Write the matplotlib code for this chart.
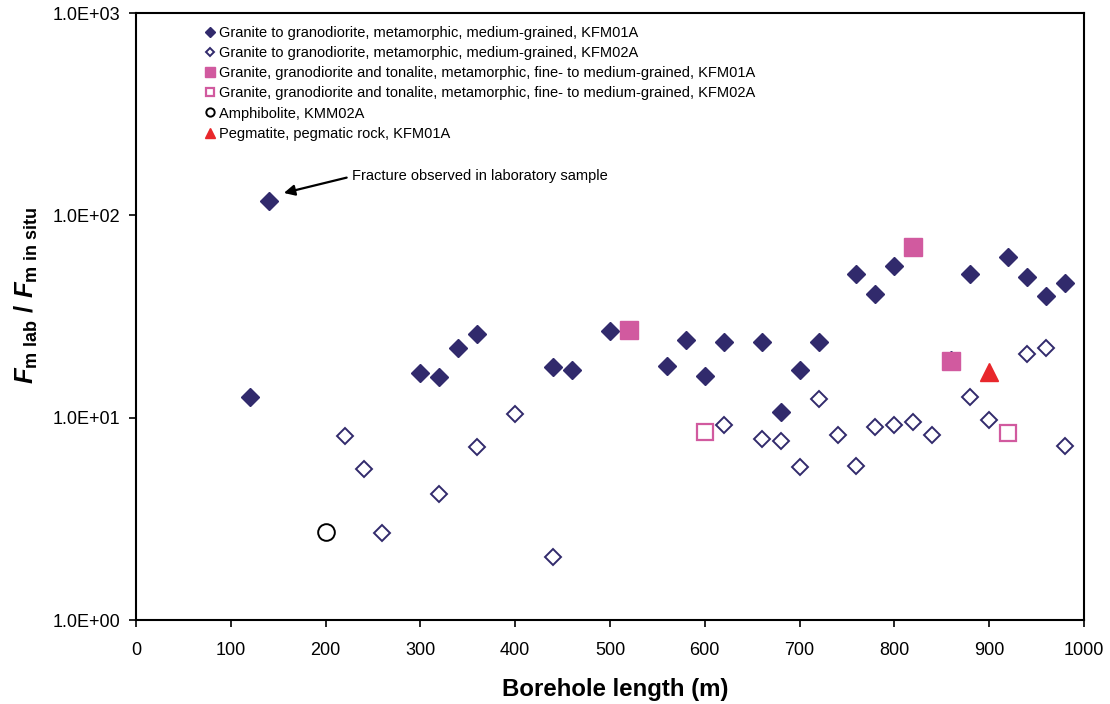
import numpy as np
import matplotlib
matplotlib.use("Agg")
import matplotlib.pyplot as plt
from matplotlib.ticker import FixedLocator, FuncFormatter, NullLocator

plt.rcParams['font.family'] = ['Liberation Sans', 'DejaVu Sans']
plt.rcParams['mathtext.fontset'] = 'custom'
plt.rcParams['mathtext.rm'] = 'Liberation Sans:bold'
plt.rcParams['mathtext.it'] = 'Liberation Sans:bold:italic'
plt.rcParams['mathtext.bf'] = 'Liberation Sans:bold'

# Granite to granodiorite, KFM01A (filled diamonds)
kfm01_x = [120, 140, 300, 320, 340, 360, 440, 460, 500, 560, 580, 600, 620, 660,
           680, 700, 720, 760, 780, 800, 860, 880, 920, 940, 960, 980]
kfm01_y = [12.6, 118, 16.7, 15.8, 22.2, 25.9, 17.9, 17.3, 26.8, 18.0, 24.2, 16.1,
           23.7, 23.7, 10.7, 17.2, 23.7, 51.2, 40.7, 56.2, 19.3, 51.2, 62.1, 49.4,
           40.0, 46.2]

# Granite to granodiorite, KFM02A (open diamonds)
kfm02_x = [220, 240, 260, 320, 360, 400, 440, 620, 660, 680, 700, 720, 740, 760,
           780, 800, 820, 840, 880, 900, 940, 960, 980]
kfm02_y = [8.1, 5.6, 2.68, 4.2, 7.2, 10.4, 2.04, 9.2, 7.85, 7.7, 5.73, 12.4, 8.24,
           5.79, 8.97, 9.17, 9.5, 8.24, 12.6, 9.7, 20.6, 22.1, 7.28]

# Granite, granodiorite and tonalite
fine01_x = [520, 820, 860]
fine01_y = [27.0, 70.0, 19.0]
fine02_x = [600, 920]
fine02_y = [8.5, 8.43]

# Amphibolite, KMM02A
amph_x = [200]
amph_y = [2.73]

# Pegmatite, KFM01A
pegm_x = [900]
pegm_y = [16.8]

labels = [
    "Granite to granodiorite, metamorphic, medium-grained, KFM01A",
    "Granite to granodiorite, metamorphic, medium-grained, KFM02A",
    "Granite, granodiorite and tonalite, metamorphic, fine- to medium-grained, KFM01A",
    "Granite, granodiorite and tonalite, metamorphic, fine- to medium-grained, KFM02A",
    "Amphibolite, KMM02A",
    "Pegmatite, pegmatic rock, KFM01A",
]

navy = '#312A6C'
pink = '#D15A9F'
red = '#E8272B'

fig = plt.figure(figsize=(11.10, 7.04), dpi=100)
ax = fig.add_axes([0.1225, 0.1193, 0.8541, 0.8622])

ax.plot(kfm01_x, kfm01_y, 'D', ms=9.2, color=navy, mec=navy, label=labels[0])
ax.plot(kfm02_x, kfm02_y, 'D', ms=8.6, mfc='white', mec=navy, mew=1.4, label=labels[1])
ax.plot(fine01_x, fine01_y, 's', ms=13, color=pink, mec=pink, label=labels[2])
ax.plot(fine02_x, fine02_y, 's', ms=12, mfc='white', mec=pink, mew=1.6, label=labels[3])
ax.plot(amph_x, amph_y, 'o', ms=12, mfc='white', mec='black', mew=1.4, label=labels[4])
ax.plot(pegm_x, pegm_y, '^', ms=13, color=red, mec=red, label=labels[5])

ax.annotate("Fracture observed in laboratory sample", xy=(156, 129), xytext=(228, 156),
            fontsize=10.5, ha='left', va='center',
            arrowprops=dict(arrowstyle='-|>', color='black', lw=1.6, relpos=(0, 0.5),
                            mutation_scale=16, shrinkA=2, shrinkB=0))

ax.set_yscale('log')
ax.set_xlim(0, 1000)
ax.set_ylim(1, 1000)
ax.set_xticks(np.arange(0, 1001, 100))
ax.yaxis.set_major_locator(FixedLocator([1, 10, 100, 1000]))
ax.yaxis.set_minor_locator(NullLocator())
ax.yaxis.set_major_formatter(FuncFormatter(lambda v, p: f"{v:.1E}"))
ax.tick_params(axis='both', direction='out', length=5, width=1.2, labelsize=13, pad=6)
ax.tick_params(axis='x', pad=11)
for s in ax.spines.values():
    s.set_linewidth(1.5)
    s.set_color('black')

ax.set_xlabel("Borehole length (m)", fontsize=17.3, fontweight='bold')
ax.xaxis.set_label_coords(0.506, -0.095)
ax.set_ylabel(r'$F_{\mathrm{m\ lab}}\ /\ F_{\mathrm{m\ in\ situ}}$', fontsize=18.5)
ax.yaxis.set_label_coords(-0.101, 0.535)

ax.legend(loc='upper left', bbox_to_anchor=(0.073, 0.9786), frameon=False,
          fontsize=10.5, markerscale=0.5, handlelength=0.6, handletextpad=0.32,
          labelspacing=0.42, borderpad=0, borderaxespad=0)

fig.savefig('out.png', dpi=100)
